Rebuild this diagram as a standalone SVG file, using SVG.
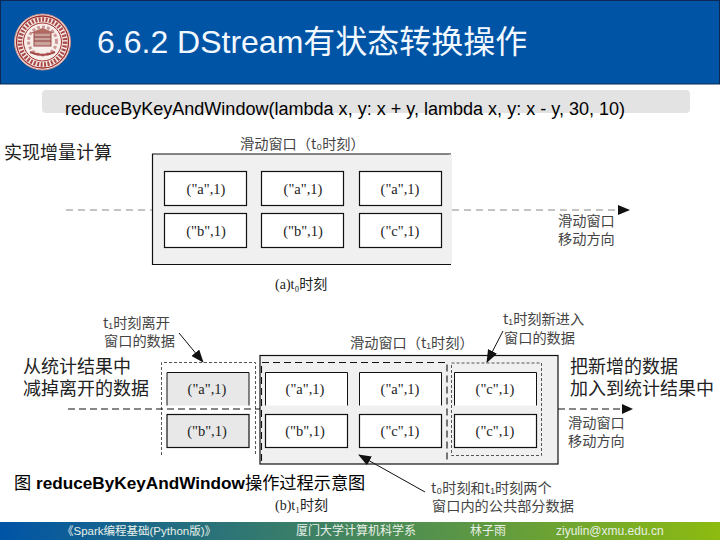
<svg xmlns="http://www.w3.org/2000/svg" width="720" height="540" viewBox="0 0 720 540">
<style>
.s{font-family:"Liberation Serif","Noto Sans CJK SC",serif;fill:#222}
.c{font-size:14.5px}
.l{font-family:"Noto Sans CJK SC",sans-serif;font-size:14.2px;fill:#444}
.b{font-family:"Noto Sans CJK SC",sans-serif;font-size:18px;fill:#222}
.k{font-family:"Liberation Sans","Noto Sans CJK SC",sans-serif;fill:#000}
.f{font-family:"Liberation Sans","Noto Sans CJK SC",sans-serif;font-size:12px;fill:#e8f0e8}
.w{fill:#fff;stroke:#111;stroke-width:1.2}
.g{fill:#e8e8e8;stroke:#111;stroke-width:1.2}
.o{fill:#f0f0f0;stroke:#111;stroke-width:1.2}
.d{fill:none;stroke:#111;stroke-width:1.1;stroke-dasharray:7 4}
.n{fill:none;stroke:#888;stroke-width:1;stroke-dasharray:7 5}
.t{fill:none;stroke:#555;stroke-width:1;stroke-dasharray:3 2}
.a{fill:none;stroke:#111;stroke-width:1}
.m{text-anchor:middle}
</style>
<defs>
<linearGradient id="fg" x1="0" x2="1" y1="0" y2="0"><stop offset="0" stop-color="#0054a6"/><stop offset="1" stop-color="#8dbb10"/></linearGradient>
<marker id="ah" markerWidth="13" markerHeight="10" refX="12" refY="5" orient="auto" markerUnits="userSpaceOnUse"><path d="M0 0L13 5L0 10Z" fill="#111"/></marker>
</defs>
<rect width="720" height="540" fill="#fff"/>
<g id="header">
<rect x="0.5" y="0.5" width="719" height="83.5" fill="#0054a6" stroke="#0a2a55"/>
<g id="logo">
<circle cx="42.500" cy="42" r="28" fill="#f6e9e4" stroke="#c98f88" stroke-width="1"/>
<circle cx="42.500" cy="42" r="26" fill="none" stroke="#9e2f2f" stroke-width="1.300"/>
<circle cx="42.500" cy="42" r="22.500" fill="none" stroke="#a84a4a" stroke-width="4.500" stroke-dasharray="2 1.500"/>
<circle cx="42.500" cy="42" r="19" fill="#f8eeea" stroke="#9e2f2f" stroke-width="1"/>
<circle cx="42.500" cy="41" r="14" fill="none" stroke="#c99" stroke-width="3" stroke-dasharray="3 2"/>
<rect x="34" y="33" width="17" height="13" fill="#c9a299" stroke="#9e4a4a"/>
<path d="M30 33L42.500 28L55 33Z" fill="#b06a62"/>
<path d="M34 37H51M34 41H51" stroke="#8f3a3a"/>
<path d="M30 52Q42.500 58 55 52" fill="none" stroke="#a84a4a" stroke-width="2"/>
</g>
<text class="k" x="97" y="53" font-size="32" style="fill:#f2f8ff">6.6.2 DStream有状态转换操作</text>
</g>
<rect x="42" y="90" width="648" height="23" rx="4" fill="#e3e3e3"/>
<text class="k" x="65" y="115" font-size="18.050">reduceByKeyAndWindow(lambda x, y: x + y, lambda x, y: x - y, 30, 10)</text>
<text class="b" x="4" y="159">实现增量计算</text>
<g id="window-t0">
<path class="o" d="M451 154H152.500V264.500H451" />
<rect x="449" y="154.600" width="3" height="109.300" fill="#f0f0f0"/>
<text class="l" x="240" y="149">滑动窗口（t₀时刻）</text>
<rect class="w" x="164.500" y="171.500" width="82" height="34"/><text class="s c m" x="206" y="194">("a",1)</text>
<rect class="w" x="261.500" y="171.500" width="82" height="34"/><text class="s c m" x="303" y="194">("a",1)</text>
<rect class="w" x="359.500" y="171.500" width="82" height="34"/><text class="s c m" x="400" y="194">("a",1)</text>
<rect class="w" x="164.500" y="213.500" width="82" height="34"/><text class="s c m" x="206" y="236">("b",1)</text>
<rect class="w" x="261.500" y="213.500" width="82" height="34"/><text class="s c m" x="303" y="236">("b",1)</text>
<rect class="w" x="359.500" y="213.500" width="82" height="34"/><text class="s c m" x="400" y="236">("c",1)</text>
<text class="s" x="275" y="289" font-size="14">(a)t₀时刻</text>
</g>
<g id="window-t1">
<rect class="o" x="260" y="355.500" width="298" height="108.500"/>
<path d="M167 405.500V372.500H249V405.500Z" fill="#e8e8e8"/><path class="a" d="M167 405.500V372.500H249V405.500" stroke-width="1.200"/><text class="s c m" x="207" y="394">("a",1)</text>
<rect class="g" x="167" y="414.500" width="82" height="33"/><text class="s c m" x="207" y="436">("b",1)</text>
<path d="M265.500 405.500V372.500H347.500V405.500Z" fill="#fff"/><path class="a" d="M265.500 405.500V372.500H347.500V405.500"/><text class="s c m" x="305" y="394">("a",1)</text>
<rect class="w" x="265.500" y="414.500" width="82" height="33"/><text class="s c m" x="305" y="436">("b",1)</text>
<path d="M359.500 405.500V372.500H441.500V405.500Z" fill="#fff"/><path class="a" d="M359.500 405.500V372.500H441.500V405.500"/><text class="s c m" x="400" y="394">("a",1)</text>
<rect class="w" x="359.500" y="414.500" width="82" height="33"/><text class="s c m" x="400" y="436">("c",1)</text>
<path d="M454.500 405.500V372.500H536.500V405.500Z" fill="#fff"/><path class="a" d="M454.500 405.500V372.500H536.500V405.500"/><text class="s c m" x="495" y="394">("c",1)</text>
<rect class="w" x="454.500" y="414.500" width="82" height="33"/><text class="s c m" x="495" y="436">("c",1)</text>
<path class="t" d="M161.500 455V362.500H255.500V455"/>
<rect class="t" x="451.500" y="363" width="90" height="92.500"/>
<path class="d" d="M261.500 461V362.500H447V461"/>
<text class="l" x="350" y="348">滑动窗口（t₁时刻）</text>
<text class="s" x="275" y="510" font-size="14">(b)t₁时刻</text>
</g>
<g id="connectors">
<path class="n" d="M66 210H152"/>
<path class="n" d="M452 210H618"/>
<path d="M618 205L630 210L618 215Z" fill="#111"/>
<path class="d" d="M68 409H260"/>
<path class="d" d="M558 409H622"/>
<path d="M622 404L633 409L622 414Z" fill="#111"/>
<path class="a" d="M179 333L203 362" marker-end="url(#ah)"/>
<path class="a" d="M503 331L487 362" marker-end="url(#ah)"/>
<path class="a" d="M425 492L359 455" marker-end="url(#ah)"/>
</g>
<g id="labels">
<text class="l" x="103" y="328">t₁时刻离开</text>
<text class="l" x="104" y="346">窗口的数据</text>
<text class="l" x="503" y="324">t₁时刻新进入</text>
<text class="l" x="504" y="343">窗口的数据</text>
<text class="l" x="558" y="226">滑动窗口</text>
<text class="l" x="558" y="244">移动方向</text>
<text class="l" x="568" y="428">滑动窗口</text>
<text class="l" x="568" y="446">移动方向</text>
<text class="l" x="431" y="493">t₀时刻和t₁时刻两个</text>
<text class="l" x="432" y="511">窗口内的公共部分数据</text>
<text class="b" x="23" y="373">从统计结果中</text>
<text class="b" x="23" y="395">减掉离开的数据</text>
<text class="b" x="570" y="373">把新增的数据</text>
<text class="b" x="570" y="395">加入到统计结果中</text>
<text class="k" x="14" y="489" font-size="17.200">图 <tspan font-weight="700">reduceByKeyAndWindow</tspan>操作过程示意图</text>
</g>
<g id="footer">
<rect x="0" y="522" width="720" height="18" fill="url(#fg)"/>
<text class="f" x="62" y="535" style="font-size:11.500px">《Spark编程基础(Python版)》</text>
<text class="f" x="296" y="535">厦门大学计算机科学系</text>
<text class="f" x="470" y="535">林子雨</text>
<text class="f" x="556" y="535">ziyulin@xmu.edu.cn</text>
</g>
</svg>
